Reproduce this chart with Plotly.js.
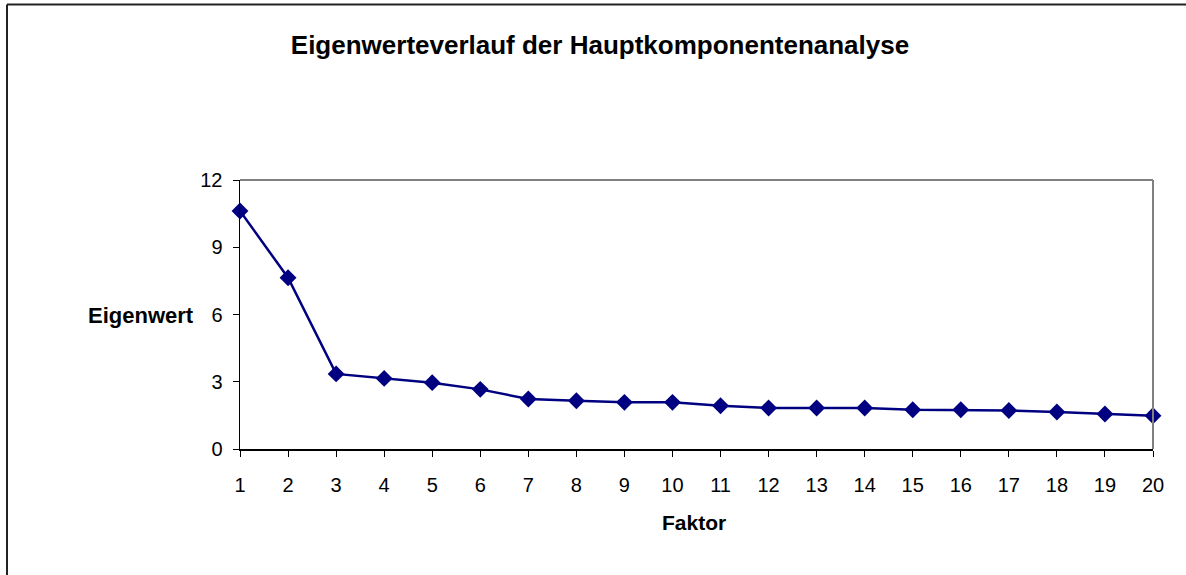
<!DOCTYPE html>
<html>
<head>
<meta charset="utf-8">
<script src="https://cdn.plot.ly/plotly-3.0.1.min.js"></script>
<style>
html,body{margin:0;padding:0;background:#fff;}
#chart{width:1186px;height:575px;}
</style>
</head>
<body>
<div id="chart"></div>
<script>
const faktor = [1,2,3,4,5,6,7,8,9,10,11,12,13,14,15,16,17,18,19,20];
const eigenwert = [10.62,7.64,3.35,3.15,2.96,2.66,2.23,2.15,2.08,2.08,1.93,1.83,1.83,1.83,1.75,1.75,1.72,1.65,1.56,1.48];
const yTicks = [0,3,6,9,12];

const trace = {
  x: faktor, y: eigenwert, type: 'scatter', mode: 'lines+markers',
  line: {color: '#000080', width: 2.5},
  marker: {symbol: 'diamond', size: 13, color: '#000080'},
  cliponaxis: false, hoverinfo: 'x+y'
};

const font = {family: 'Liberation Sans, Arial, sans-serif', color: '#000'};

const layout = {
  width: 1186, height: 575,
  margin: {l: 240, r: 33, t: 180, b: 126},
  paper_bgcolor: '#fff', plot_bgcolor: '#fff',
  showlegend: false,
  font: Object.assign({size: 20}, font),
  title: {text: '<b>Eigenwerteverlauf der Hauptkomponentenanalyse</b>',
    x: 600/1186, xref: 'container', y: 0.922, yref: 'container', xanchor: 'center', yanchor: 'middle',
    font: Object.assign({size: 26}, font)},
  xaxis: {range: [1, 20], tickmode: 'array', tickvals: faktor, ticktext: faktor.map(String),
    showgrid: false, zeroline: false, showline: true, linecolor: '#000', linewidth: 1.5,
    ticks: 'outside', ticklen: 6, tickcolor: '#000', tickwidth: 1,
    ticklabelstandoff: 11, tickfont: Object.assign({size: 20}, font), fixedrange: true},
  yaxis: {range: [0, 12], tickmode: 'array', tickvals: yTicks, ticktext: yTicks.map(String),
    showgrid: false, zeroline: false, showline: true, linecolor: '#000', linewidth: 1.5,
    ticks: 'outside', ticklen: 6, tickcolor: '#000', tickwidth: 1,
    ticklabelstandoff: 6, tickfont: Object.assign({size: 20}, font), fixedrange: true},
  annotations: [
    {text: '<b>Eigenwert</b>', xref: 'paper', yref: 'paper', x: (141-240)/913, y: (449-315)/269,
     xanchor: 'center', yanchor: 'middle', showarrow: false, font: Object.assign({size: 22}, font)},
    {text: '<b>Faktor</b>', xref: 'paper', yref: 'paper', x: (694-240)/913, y: (449-522)/269,
     xanchor: 'center', yanchor: 'middle', showarrow: false, font: Object.assign({size: 21}, font)}
  ],
  shapes: [
    {type: 'line', xref: 'paper', yref: 'paper', x0: 0, x1: 1, y0: 1, y1: 1, line: {color: '#808080', width: 2}},
    {type: 'line', xref: 'paper', yref: 'paper', x0: 1, x1: 1, y0: 0, y1: 1, line: {color: '#808080', width: 2}},
    {type: 'line', xref: 'paper', yref: 'paper', x0: (7-240)/913, x1: (7-240)/913, y0: (449-4.5)/269, y1: -0.7, line: {color: '#222', width: 2}},
    {type: 'line', xref: 'paper', yref: 'paper', x0: (7-240)/913, x1: 1.1, y0: (449-4.5)/269, y1: (449-4.5)/269, line: {color: '#222', width: 2}}
  ]
};

Plotly.newPlot('chart', [trace], layout, {displayModeBar: false, staticPlot: true});
</script>
</body>
</html>
